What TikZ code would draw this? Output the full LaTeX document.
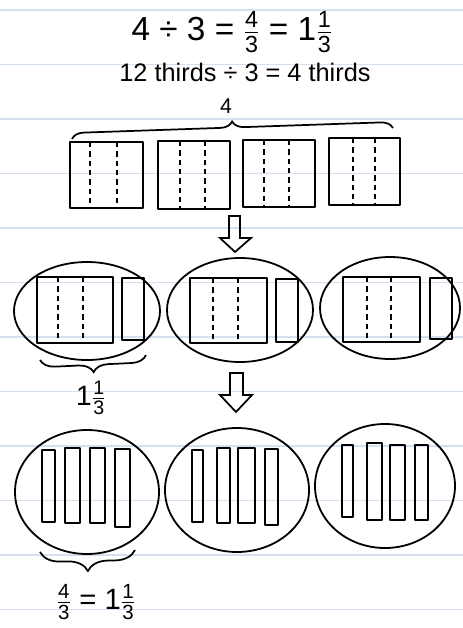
\documentclass[tikz,border=0pt]{standalone}
\usepackage{amsmath}
\usepackage{fontspec}
\setmainfont{Liberation Sans}
\usetikzlibrary{decorations.pathreplacing}
\definecolor{ruled}{RGB}{212,224,237}
\newcommand\fr[2]{\ensuremath{\genfrac{}{}{0.7pt}{1}{\text{#1}}{\text{#2}}}}
\begin{document}
\begin{tikzpicture}[x=0.75pt,y=-0.75pt,
  ink/.style={line width=1.35pt, black, line join=round},
  dashline/.style={line width=1.1pt, black, dash pattern=on 4pt off 3pt},
  blob/.style={line width=1.35pt, black},
  hollowarrow/.style={line width=1.3pt, black, line join=miter},
  bracestyle/.style={line width=1.3pt, black, decorate},
  lbl/.style={inner sep=0pt, text=black}]
\useasboundingbox (0,0) rectangle (463,628);
\fill[white] (0,0) rectangle (463,628);
% ruled notebook lines
\foreach \k in {0,...,11}
  \draw[ruled, line width=1pt] (0,{10+54.5*\k}) -- (463,{10+54.5*\k});

% title
\node[lbl, font=\fontsize{25}{28}\selectfont] (title) at (232,32) {4 ÷ 3 = \fr{4}{3} = 1\fr{1}{3}};
\node[lbl, font=\fontsize{19}{22}\selectfont] (sub) at (245,72) {12 thirds ÷ 3 = 4 thirds};
\node[lbl, font=\fontsize{16}{18}\selectfont] (four) at (226,106) {4};

% top brace
\draw[bracestyle, decoration={brace, amplitude=9pt}] (72,139) -- (393,128);

% top wholes
\foreach \a/\b/\c/\d/\p/\q in {70/143/142/208/90/117, 158/230/141/209/180/205,
    243/315/140/207/264/289, 329/400/138/205/353/375} {
  \draw[ink] (\a,\c) rectangle (\b,\d);
  \draw[dashline] (\p,\c) -- (\p,\d);
  \draw[dashline] (\q,\c) -- (\q,\d);
}

% arrow 1
\draw[hollowarrow] (229,216) -- (240,216) -- (240,238) -- (251,238) -- (235,252)
  -- (220,238) -- (229,238) -- cycle;

% row 2 groups
\draw[blob] (87,311) ellipse [x radius=73, y radius=49];
\draw[blob] (240,310) ellipse [x radius=73, y radius=52];
\draw[blob] (390,308) ellipse [x radius=70, y radius=51];
\foreach \a/\b/\c/\d/\p/\q in {37/113/277/343/58/83, 190/267/278/343/213/238,
    343/420/277/342/367/391} {
  \draw[ink] (\a,\c) rectangle (\b,\d);
  \draw[dashline] (\p,\c) -- (\p,\d);
  \draw[dashline] (\q,\c) -- (\q,\d);
}
\foreach \a/\b/\c/\d in {122/144/278/340, 276/298/279/342, 430/452/278/339}
  \draw[ink] (\a,\c) rectangle (\b,\d);

% row 2 brace + label
\draw[bracestyle, decoration={brace, mirror, amplitude=11pt}] (40,360) -- (146,355);
\node[lbl, font=\fontsize{21}{24}\selectfont] (lab1) at (91,398) {1\fr{1}{3}};

% arrow 2
\draw[hollowarrow] (230,373) -- (243,373) -- (243,395) -- (252,395) -- (236,412)
  -- (220,395) -- (230,395) -- cycle;

% row 3 groups
\draw[blob] (87,492) ellipse [x radius=72, y radius=62];
\draw[blob] (237,490) ellipse [x radius=72, y radius=62];
\draw[blob] (385,486) ellipse [x radius=70, y radius=62];
\foreach \a/\b/\c/\d in {42/55/450/522, 65/80/448/523, 90/105/448/523, 115/130/449/527,
    192/203/450/522, 217/230/448/523, 238/255/448/523, 265/278/449/525,
    342/353/445/517, 367/382/443/520, 390/405/445/520, 415/428/445/520}
  \draw[ink] (\a,\c) rectangle (\b,\d);

% row 3 brace + label
\draw[bracestyle, decoration={brace, mirror, amplitude=15pt}] (40,552) -- (135,550);
\node[lbl, font=\fontsize{22}{25}\selectfont] (lab2) at (96,602) {\fr{4}{3} = 1\fr{1}{3}};
\end{tikzpicture}
\end{document}
